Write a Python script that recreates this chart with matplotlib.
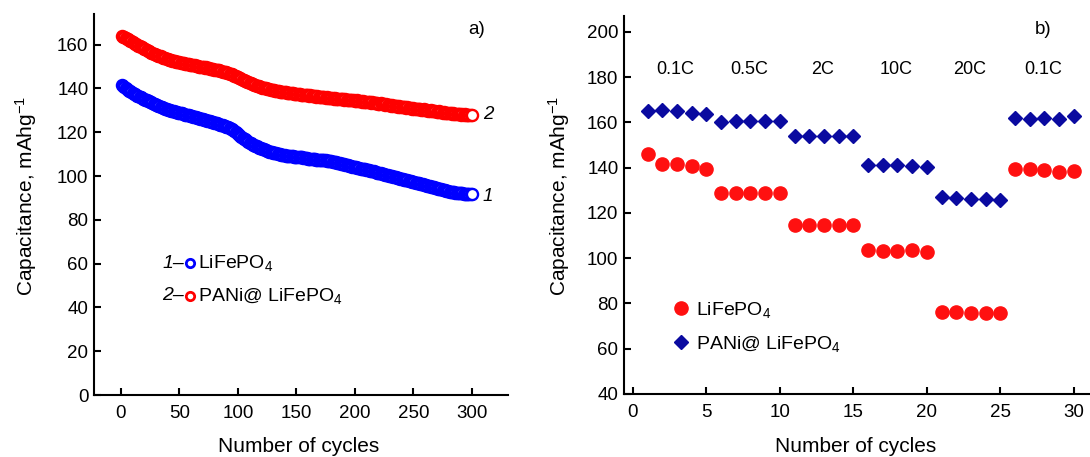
import matplotlib
matplotlib.use('Agg')
import matplotlib.pyplot as plt
import numpy as np

plt.rcParams['font.family'] = ['Liberation Sans', 'DejaVu Sans']
plt.rcParams['mathtext.fontset'] = 'custom'
plt.rcParams['mathtext.rm'] = 'Liberation Sans'
plt.rcParams['mathtext.it'] = 'Liberation Sans:italic'

# ---- panel a: long cycling (cycles 1..300) ----
cycles_a = np.arange(1, 301)

pani_a = [
    164.0, 163.6, 163.3, 163.1, 162.6, 162.4, 162.0, 161.7, 161.5, 161.1,
    160.8, 160.5, 160.3, 159.9, 159.6, 159.4, 159.0, 158.8, 158.5, 158.1,
    157.9, 157.6, 157.3, 157.1, 156.8, 156.4, 156.3, 155.9, 155.7, 155.5,
    155.2, 155.0, 154.7, 154.6, 154.3, 154.1, 153.9, 153.8, 153.5, 153.4,
    153.2, 153.0, 152.9, 152.7, 152.6, 152.4, 152.3, 152.1, 152.0, 151.9,
    151.8, 151.6, 151.7, 151.4, 151.3, 151.2, 151.0, 151.1, 150.8, 150.7,
    150.6, 150.5, 150.5, 150.3, 150.2, 150.1, 149.9, 150.0, 149.8, 149.7,
    149.6, 149.5, 149.6, 149.3, 149.2, 149.1, 149.0, 148.8, 148.9, 148.6,
    148.5, 148.4, 148.2, 148.3, 148.0, 147.9, 147.7, 147.6, 147.4, 147.3,
    147.1, 147.0, 146.8, 146.6, 146.4, 146.1, 145.9, 145.6, 145.4, 145.1,
    144.8, 144.6, 144.3, 144.0, 143.8, 143.5, 143.3, 143.0, 142.8, 142.6,
    142.3, 142.1, 141.9, 141.7, 141.4, 141.3, 141.1, 140.9, 140.7, 140.6,
    140.4, 140.3, 140.1, 140.0, 139.8, 139.7, 139.6, 139.4, 139.5, 139.2,
    139.1, 139.0, 138.9, 138.8, 138.9, 138.6, 138.5, 138.6, 138.3, 138.2,
    138.3, 138.1, 138.0, 137.9, 138.0, 137.7, 137.8, 137.6, 137.5, 137.6,
    137.4, 137.3, 137.4, 137.2, 137.1, 137.2, 137.0, 136.9, 137.0, 136.8,
    136.7, 136.8, 136.6, 136.5, 136.7, 136.4, 136.3, 136.5, 136.2, 136.3,
    136.1, 136.0, 136.2, 135.9, 135.8, 136.0, 135.7, 135.8, 135.6, 135.5,
    135.7, 135.4, 135.5, 135.3, 135.4, 135.2, 135.1, 135.3, 135.0, 135.1,
    134.9, 135.0, 134.8, 134.9, 134.7, 134.6, 134.8, 134.5, 134.6, 134.4,
    134.3, 134.5, 134.2, 134.3, 134.1, 134.0, 134.2, 133.9, 133.8, 134.0,
    133.7, 133.8, 133.6, 133.5, 133.7, 133.4, 133.3, 133.5, 133.2, 133.1,
    133.0, 133.2, 132.9, 132.8, 132.9, 132.6, 132.7, 132.5, 132.4, 132.5,
    132.2, 132.3, 132.1, 131.9, 132.0, 131.8, 131.7, 131.9, 131.6, 131.5,
    131.4, 131.6, 131.3, 131.2, 131.3, 131.0, 131.1, 130.9, 130.8, 130.9,
    130.7, 130.6, 130.8, 130.5, 130.4, 130.5, 130.3, 130.2, 130.4, 130.1,
    130.0, 130.2, 129.9, 129.8, 130.0, 129.7, 129.6, 129.8, 129.5, 129.4,
    129.3, 129.5, 129.2, 129.1, 129.0, 129.2, 128.9, 128.8, 129.0, 128.7,
    128.6, 128.8, 128.5, 128.6, 128.4, 128.5, 128.3, 128.4, 128.2, 128.3,
    128.1, 128.3, 128.0, 128.2, 128.1, 127.9, 128.0, 128.1, 127.9, 128.0,
]

lfp_a = [
    141.5, 141.0, 140.6, 140.2, 139.8, 139.5, 139.0, 138.7, 138.3, 138.0,
    137.6, 137.3, 137.0, 136.7, 136.5, 136.1, 135.9, 135.6, 135.4, 135.1,
    134.9, 134.6, 134.4, 134.1, 133.9, 133.6, 133.3, 133.1, 132.8, 132.6,
    132.3, 132.1, 131.9, 131.6, 131.4, 131.2, 131.0, 130.8, 130.5, 130.3,
    130.2, 130.0, 129.9, 129.7, 129.6, 129.4, 129.3, 129.1, 129.0, 128.9,
    128.7, 128.6, 128.4, 128.3, 128.1, 128.0, 127.8, 127.7, 127.5, 127.4,
    127.2, 127.1, 126.9, 126.8, 126.6, 126.5, 126.3, 126.2, 126.0, 125.9,
    125.8, 125.6, 125.5, 125.3, 125.2, 125.0, 124.9, 124.7, 124.5, 124.4,
    124.2, 124.0, 123.9, 123.7, 123.5, 123.3, 123.2, 123.0, 122.8, 122.6,
    122.4, 122.2, 121.9, 121.6, 121.3, 120.9, 120.5, 120.1, 119.6, 119.2,
    118.7, 118.3, 117.9, 117.5, 117.1, 116.7, 116.3, 115.9, 115.5, 115.2,
    114.9, 114.6, 114.3, 114.0, 113.8, 113.5, 113.3, 113.0, 112.8, 112.6,
    112.4, 112.2, 112.0, 111.8, 111.6, 111.4, 111.2, 111.0, 110.9, 110.7,
    110.6, 110.4, 110.3, 110.1, 110.0, 109.9, 109.8, 109.6, 109.5, 109.4,
    109.3, 109.2, 109.2, 109.1, 109.1, 109.0, 109.0, 108.9, 108.9, 108.8,
    108.8, 108.7, 108.6, 108.5, 108.5, 108.4, 108.3, 108.2, 108.1, 108.0,
    107.9, 107.9, 107.8, 107.7, 107.7, 107.6, 107.5, 107.5, 107.4, 107.4,
    107.3, 107.3, 107.2, 107.1, 107.1, 107.0, 106.9, 106.9, 106.8, 106.7,
    106.6, 106.5, 106.3, 106.2, 106.1, 105.9, 105.8, 105.7, 105.5, 105.4,
    105.3, 105.1, 105.0, 104.9, 104.7, 104.6, 104.5, 104.3, 104.2, 104.1,
    103.9, 103.8, 103.7, 103.6, 103.4, 103.3, 103.2, 103.1, 103.0, 102.9,
    102.7, 102.6, 102.5, 102.3, 102.2, 102.1, 101.9, 101.8, 101.6, 101.5,
    101.4, 101.2, 101.1, 100.9, 100.8, 100.7, 100.5, 100.4, 100.2, 100.1,
    99.9, 99.8, 99.7, 99.5, 99.4, 99.2, 99.1, 99.0, 98.8, 98.7,
    98.5, 98.4, 98.3, 98.1, 98.0, 97.8, 97.7, 97.6, 97.4, 97.3,
    97.1, 97.0, 96.9, 96.7, 96.6, 96.4, 96.3, 96.2, 96.0, 95.9,
    95.7, 95.6, 95.5, 95.3, 95.2, 95.0, 94.9, 94.8, 94.6, 94.5,
    94.3, 94.2, 94.0, 93.9, 93.8, 93.6, 93.5, 93.3, 93.2, 93.1,
    92.9, 92.8, 92.7, 92.6, 92.5, 92.4, 92.3, 92.3, 92.2, 92.2,
    92.1, 92.1, 92.0, 92.0, 91.9, 91.9, 91.8, 91.8, 91.7, 91.7,
]

# ---- panel b: rate capability ----
cycles_b = np.arange(1, 31)
lfp_b = [146.2, 141.5, 141.6, 140.7, 139.6,
         128.9, 128.9, 128.9, 128.9, 128.9,
         114.8, 114.5, 114.5, 114.5, 114.5,
         103.7, 103.3, 103.3, 103.7, 102.7,
         76.1, 76.1, 75.9, 76.0, 75.9,
         139.3, 139.4, 139.0, 138.1, 138.5]
pani_b = [165.2, 165.6, 165.0, 164.3, 163.6,
          160.3, 160.6, 160.6, 160.5, 160.6,
          153.8, 154.1, 154.1, 154.1, 154.1,
          141.3, 141.0, 141.0, 140.9, 140.4,
          127.1, 126.5, 126.2, 126.2, 125.6,
          162.1, 161.6, 161.9, 161.3, 162.8]
rate_labels = ['0.1C', '0.5C', '2C', '10C', '20C', '0.1C']

fig = plt.figure(figsize=(10.9, 4.57), dpi=100)
ax1 = fig.add_axes([94/1090, 1 - 395/457, (508 - 94)/1090, (395 - 14)/457])
ax2 = fig.add_axes([624/1090, 1 - 394/457, (1090 - 624)/1090, (394 - 16)/457])

TICK_FS = 13.5
LABEL_FS = 15
LEG_FS = 14


def style_axes(ax):
    for side in ['top', 'right']:
        ax.spines[side].set_visible(False)
    for side in ['left', 'bottom']:
        ax.spines[side].set_linewidth(1.5)
    ax.tick_params(axis='x', direction='in', length=5, width=1.5, labelsize=TICK_FS, pad=7)
    ax.tick_params(axis='y', direction='in', length=5, width=1.5, labelsize=TICK_FS, pad=4)


# panel a
ax1.plot(cycles_a, pani_a, linestyle='none', marker='o', markersize=8,
         markerfacecolor='white', markeredgecolor='#ff0000', markeredgewidth=1.7)
ax1.plot(cycles_a, lfp_a, linestyle='none', marker='o', markersize=8,
         markerfacecolor='white', markeredgecolor='#0000ff', markeredgewidth=1.7)
ax1.set_xlim(-23, 331)
ax1.set_ylim(0, 174)
ax1.set_xticks([0, 50, 100, 150, 200, 250, 300])
ax1.set_yticks(range(0, 161, 20))
style_axes(ax1)
ax1.set_xlabel('Number of cycles', fontsize=LABEL_FS, va='center')
ax1.xaxis.set_label_coords(0.495, -0.134)
ax1.set_ylabel('Capacitance, mAhg$^{-1}$', fontsize=LABEL_FS, va='center')
ax1.yaxis.set_label_coords(-0.165, 0.522)
ax1.text(304, 167, 'a)', fontsize=TICK_FS, ha='center', va='center')
ax1.text(314, pani_a[-1], '2', fontsize=TICK_FS, style='italic', ha='center', va='center')
ax1.text(314, lfp_a[-1] - 1, '1', fontsize=TICK_FS, style='italic', ha='center', va='center')

# hand-made legend of panel a
for yy, num, col, lab in [(0.346, '1–', '#0000ff', 'LiFePO$_4$'),
                          (0.26, '2–', '#ff0000', 'PANi@ LiFePO$_4$')]:
    ax1.text(0.218, yy, num, transform=ax1.transAxes, fontsize=LEG_FS,
             style='italic', ha='right', va='center')
    ax1.plot([0.232], [yy], transform=ax1.transAxes, marker='o', markersize=6,
             markerfacecolor='white', markeredgecolor=col, markeredgewidth=2)
    ax1.text(0.25, yy, lab, transform=ax1.transAxes, fontsize=LEG_FS,
             ha='left', va='center')

# panel b
ax2.plot(cycles_b, lfp_b, linestyle='none', marker='o', markersize=9.5,
         color='#ff1010', label='LiFePO$_4$')
ax2.plot(cycles_b, pani_b, linestyle='none', marker='D', markersize=7.5,
         color='#0a0aa0', label='PANi@ LiFePO$_4$')
ax2.set_xlim(-0.6, 31.1)
ax2.set_ylim(40, 207)
ax2.set_xticks(range(0, 31, 5))
ax2.set_yticks(range(40, 201, 20))
style_axes(ax2)
ax2.set_xlabel('Number of cycles', fontsize=LABEL_FS, va='center')
ax2.xaxis.set_label_coords(0.498, -0.14)
ax2.set_ylabel('Capacitance, mAhg$^{-1}$', fontsize=LABEL_FS, va='center')
ax2.yaxis.set_label_coords(-0.139, 0.524)
ax2.text(27.9, 201, 'b)', fontsize=TICK_FS, ha='center', va='center')
for i, lab in enumerate(rate_labels):
    mid = np.mean(cycles_b[i*5:(i+1)*5])
    ax2.text(mid - 0.1, 183.3, lab, fontsize=13, ha='center', va='center')
leg = ax2.legend(loc='center left', bbox_to_anchor=(0.105, 0.178), frameon=False,
                 fontsize=LEG_FS, handlelength=0.8, handletextpad=0.4,
                 labelspacing=0.7, borderpad=0, borderaxespad=0)

fig.savefig('out.png', dpi=100)
